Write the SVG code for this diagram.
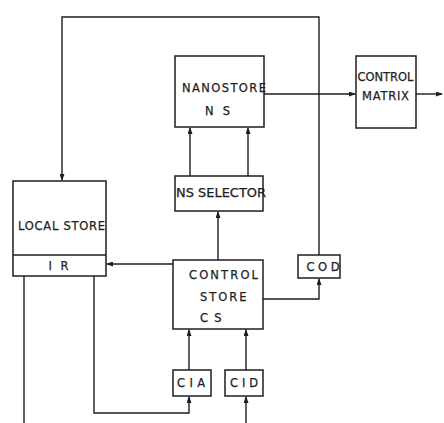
<svg xmlns="http://www.w3.org/2000/svg" width="444" height="423" viewBox="0 0 444 423">
<style>
.box{fill:#fff;stroke:#1e1e1e;stroke-width:1.5}
.ln{fill:none;stroke:#1e1e1e;stroke-width:1.4}
text{font-family:"DejaVu Sans","Liberation Sans",sans-serif;font-size:11.5px;fill:#1e1e1e;stroke:#1e1e1e;stroke-width:0.25}
</style>
<defs>
<marker id="ah" markerUnits="userSpaceOnUse" markerWidth="7" markerHeight="5" refX="6" refY="2.5" orient="auto">
<path d="M0,0 L7,2.5 L0,5 z" fill="#1e1e1e"/>
</marker>
</defs>
<rect width="444" height="423" fill="#fff"/>
<g id="connectors">
<path class="ln" d="M319,255 V17 H62 V180" marker-end="url(#ah)"/>
<path class="ln" d="M264,94 H355" marker-end="url(#ah)"/>
<path class="ln" d="M416,94 H442" marker-end="url(#ah)"/>
<path class="ln" d="M190,176 V128" marker-end="url(#ah)"/>
<path class="ln" d="M248,176 V128" marker-end="url(#ah)"/>
<path class="ln" d="M218,260 V212" marker-end="url(#ah)"/>
<path class="ln" d="M173,264 H107" marker-end="url(#ah)"/>
<path class="ln" d="M263,299 H319 V279" marker-end="url(#ah)"/>
<path class="ln" d="M189,370 V330" marker-end="url(#ah)"/>
<path class="ln" d="M94,276 V413 H189 V397" marker-end="url(#ah)"/>
<path class="ln" d="M246,370 V330" marker-end="url(#ah)"/>
<path class="ln" d="M246,423 V397" marker-end="url(#ah)"/>
<path class="ln" d="M24,276 V423"/>
</g>
<g id="nanostore">
<rect class="box" x="175" y="56" width="89" height="71"/>
<text x="182" y="92" textLength="84" lengthAdjust="spacing">NANOSTORE</text>
<text x="205" y="115" textLength="25" lengthAdjust="spacing">N S</text>
</g>
<g id="control-matrix">
<rect class="box" x="356" y="56" width="60" height="72"/>
<text x="357.5" y="81" textLength="56" lengthAdjust="spacingAndGlyphs">CONTROL</text>
<text x="362" y="100" textLength="47" lengthAdjust="spacing">MATRIX</text>
</g>
<g id="ns-selector">
<rect class="box" x="175" y="176" width="88" height="35"/>
<text x="176" y="197" textLength="90" lengthAdjust="spacingAndGlyphs">NS SELECTOR</text>
</g>
<g id="local-store">
<rect class="box" x="13" y="181" width="93" height="95"/>
<line class="ln" x1="13" y1="255" x2="106" y2="255"/>
<text x="18" y="230" textLength="87" lengthAdjust="spacing">LOCAL STORE</text>
<text x="48.5" y="269.5" textLength="20" lengthAdjust="spacing">I R</text>
</g>
<g id="control-store">
<rect class="box" x="173" y="260" width="90" height="69"/>
<text x="189" y="279" textLength="69" lengthAdjust="spacing">CONTROL</text>
<text x="200" y="301" textLength="46.5" lengthAdjust="spacing">STORE</text>
<text x="200" y="322" textLength="21.5" lengthAdjust="spacing">C S</text>
</g>
<g id="cod">
<rect class="box" x="298" y="255" width="42" height="23"/>
<text x="306.5" y="270.5" textLength="33" lengthAdjust="spacing">COD</text>
</g>
<g id="cia">
<rect class="box" x="173" y="370" width="38" height="26"/>
<text x="177" y="387" textLength="28" lengthAdjust="spacing">CIA</text>
</g>
<g id="cid">
<rect class="box" x="225" y="370" width="38" height="26"/>
<text x="230" y="387" textLength="28" lengthAdjust="spacing">CID</text>
</g>
</svg>
